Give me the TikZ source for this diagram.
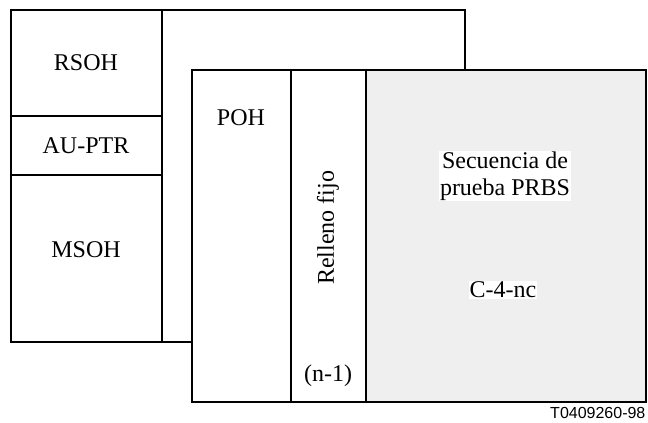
\documentclass[tikz,border=0pt]{standalone}
\usepackage{fontspec}
\setmainfont{Liberation Serif}
\newfontfamily\tagfont{Liberation Sans}
\definecolor{prbsgray}{RGB}{239,239,239}

\tikzset{every picture/.style={line width=0.9pt}}
\tikzset{lbl/.style={inner sep=0.75pt,font=\fontsize{18}{20}\selectfont,align=center}}

\begin{document}
\begin{tikzpicture}[x=0.75pt,y=0.75pt,yscale=-1]
    \useasboundingbox (0,0) rectangle (648,423);
    % back frame
    \draw    (11,10) rectangle (465,342) ;
    \draw    (162,10) -- (162,342) ;
    \draw    (11,116) -- (162,116) ;
    \draw    (11,175) -- (162,175) ;
    % front frame
    \draw  [fill=white] (192,70) rectangle (646,402) ;
    \draw  [fill=prbsgray] (366,70) rectangle (646,402) ;
    \draw    (291,70) -- (291,402) ;

    \node [lbl] (rsoh) at (86,63) {RSOH};
    \node [lbl] (auptr) at (86,146) {AU-PTR};
    \node [lbl] (msoh) at (86,250) {MSOH};
    \node [lbl] (poh) at (241,118) {POH};
    \node [lbl,rotate=90] (relleno) at (328,228) {Relleno fijo};
    \node [lbl] (nmin) at (328,376) {(n-1)};
    \node [lbl,fill=white] (prbs) at (505,176) {Secuencia de\\prueba PRBS};
    \node [lbl,fill=white] (c4nc) at (503,290) {C-4-nc};

    \node [anchor=base east,inner sep=0pt,font=\tagfont\fontsize{12}{14}\selectfont] (tag) at (646,418) {T0409260-98};
\end{tikzpicture}
\end{document}
